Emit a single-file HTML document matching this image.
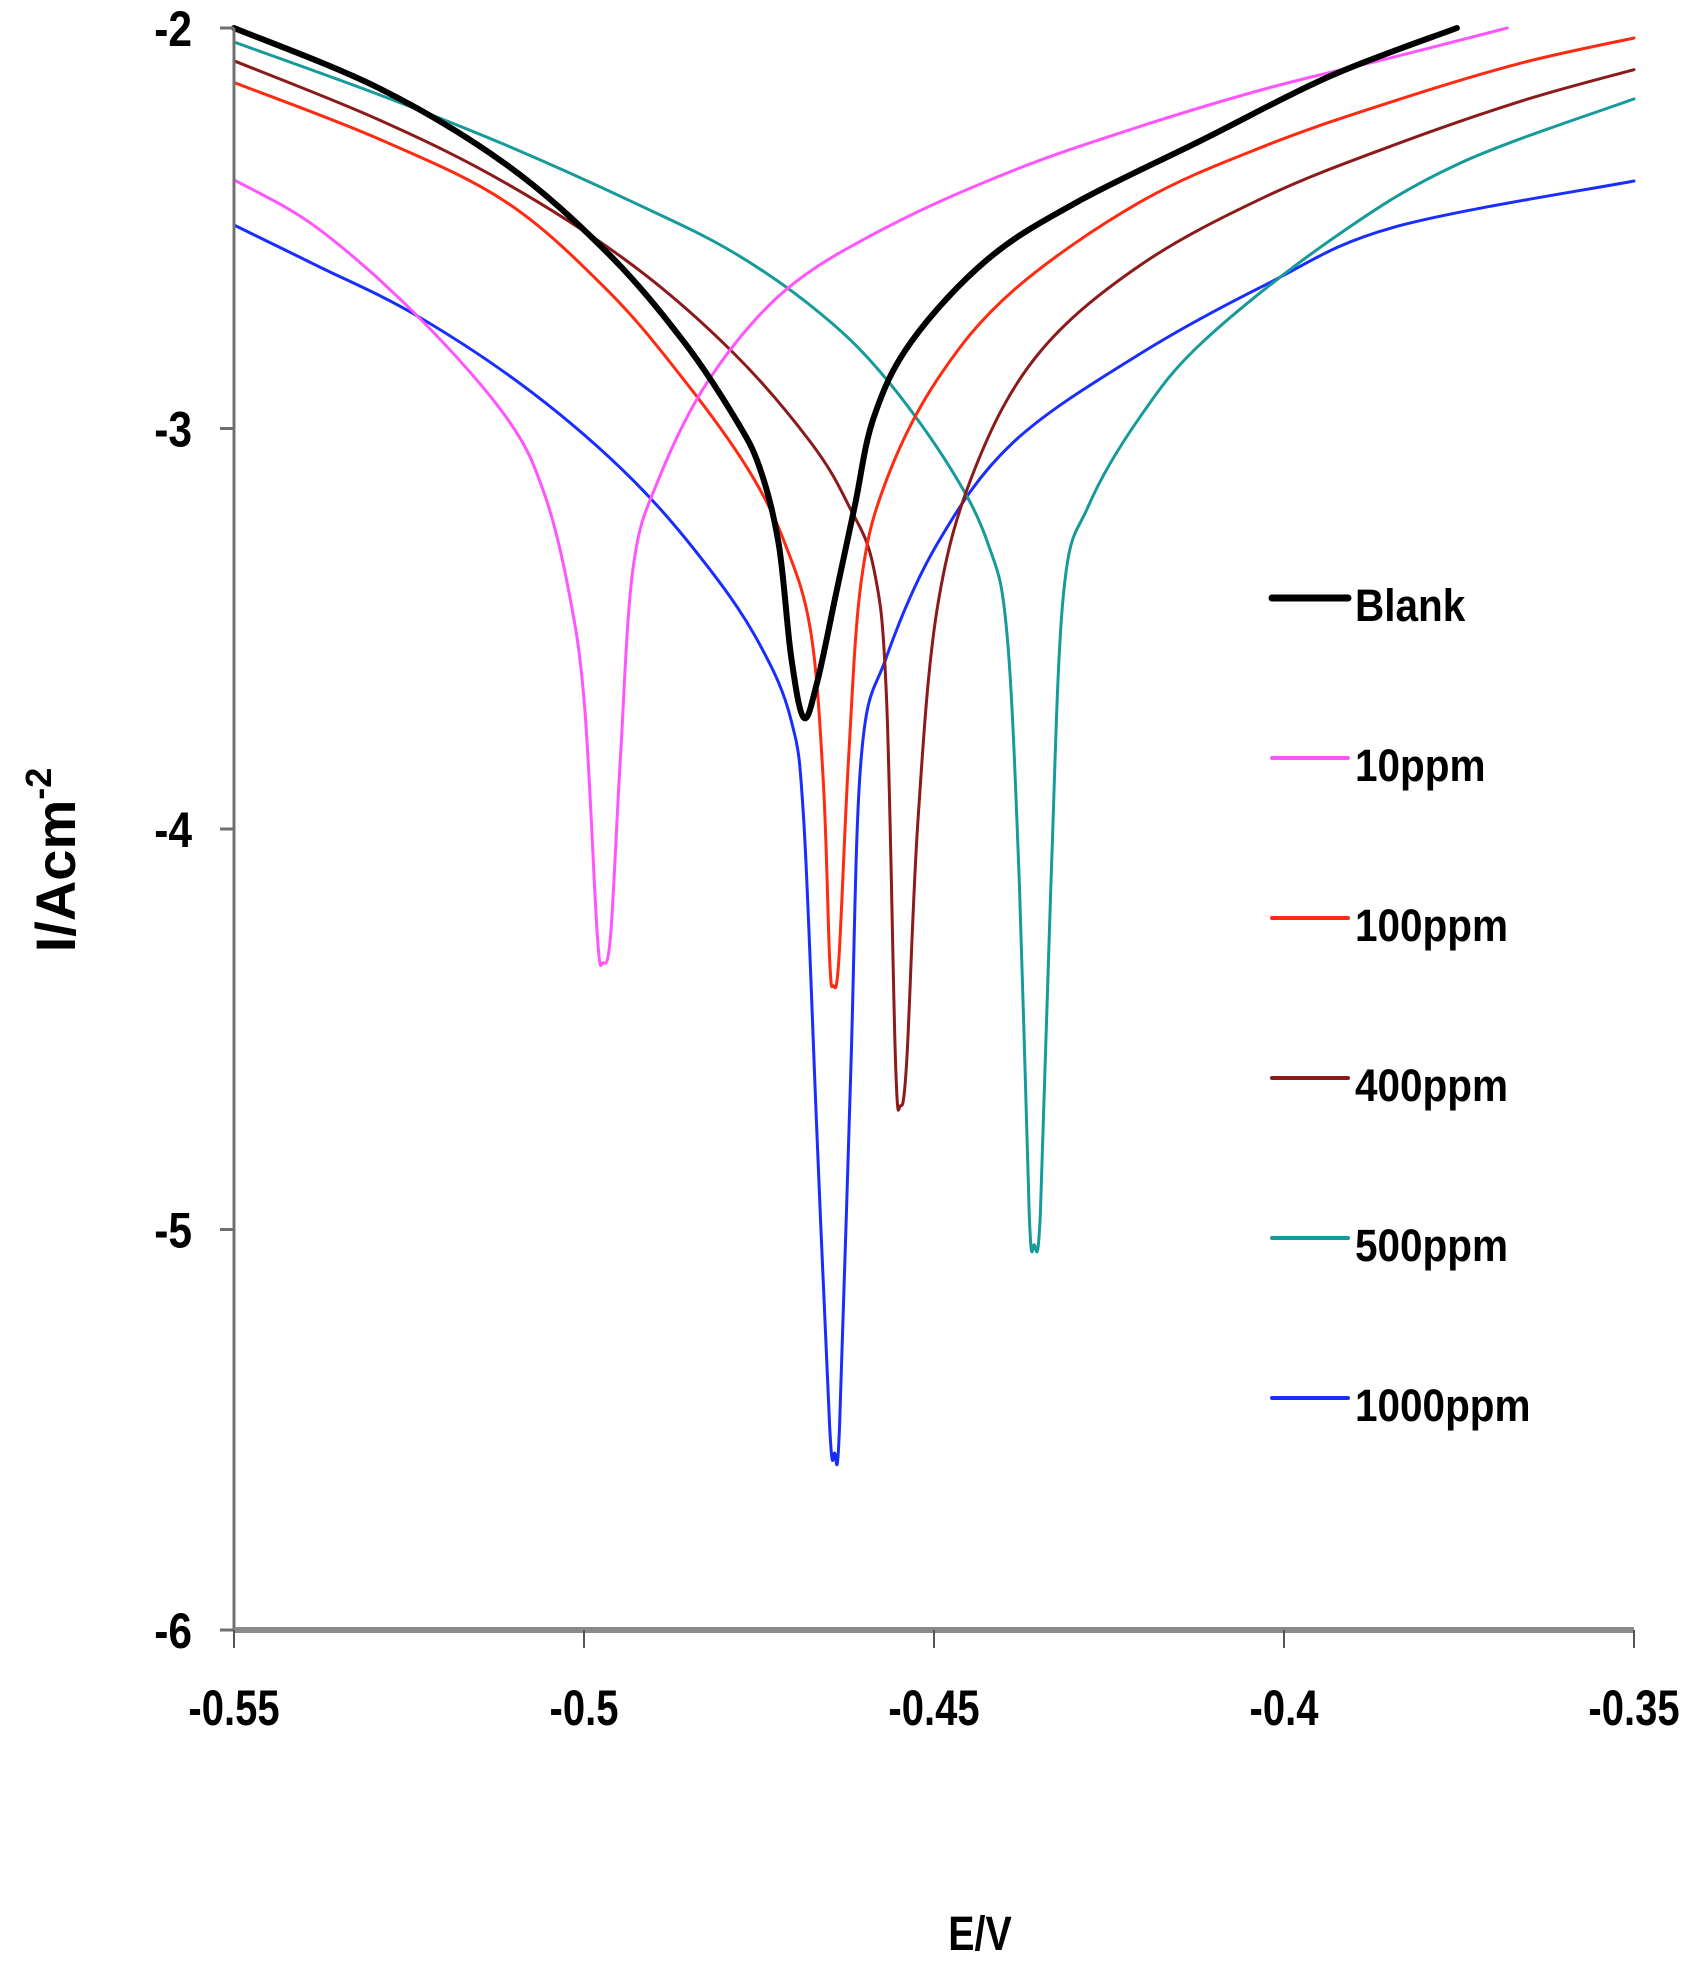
<!DOCTYPE html>
<html><head><meta charset="utf-8"><style>
html,body{margin:0;padding:0;background:#fff;}
svg{display:block;}
text{font-family:"Liberation Sans",Arial,sans-serif;font-weight:bold;fill:#000;}
</style></head><body>
<svg id="chart" width="1690" height="1980" viewBox="0 0 1690 1980" xmlns="http://www.w3.org/2000/svg">
<g id="plot"></g>
<g id="axes"></g>
<g id="legend"></g>
<text x="980" y="1950" font-size="48" text-anchor="middle" transform="translate(980 0) scale(0.82 1) translate(-980 0)">E/V</text>
<text font-size="56" text-anchor="middle" transform="translate(75 860) rotate(-90)">I/Acm<tspan font-size="36" dy="-24">-2</tspan></text>
</svg>
<script>
const xTicks=[-0.55,-0.5,-0.45,-0.4,-0.35];
const xTickLabels=["-0.55","-0.5","-0.45","-0.4","-0.35"];
const yTicks=[-2,-3,-4,-5,-6];
const yTickLabels=["-2","-3","-4","-5","-6"];
const seriesNames=["Blank","10ppm","100ppm","400ppm","500ppm","1000ppm"];
const blankE=[-0.55,-0.5292,-0.5111,-0.4966,-0.4858,-0.4785,-0.4749,-0.4722,-0.4704,-0.4686,-0.4667,-0.464,-0.4613,-0.4586,-0.4532,-0.4423,-0.4296,-0.4115,-0.3934,-0.3753];
const blankI=[-2.0,-2.151,-2.341,-2.562,-2.782,-2.972,-3.098,-3.287,-3.571,-3.722,-3.634,-3.413,-3.192,-2.972,-2.782,-2.577,-2.435,-2.278,-2.12,-2.0];
const p10E=[-0.55,-0.5382,-0.5238,-0.5111,-0.5057,-0.5021,-0.4999,-0.4981,-0.4973,-0.4962,-0.4948,-0.493,-0.4894,-0.4821,-0.4713,-0.4568,-0.4387,-0.4206,-0.4025,-0.3844,-0.3681];
const p10I=[-2.379,-2.498,-2.719,-2.972,-3.161,-3.413,-3.697,-4.265,-4.334,-4.265,-3.823,-3.35,-3.129,-2.877,-2.656,-2.498,-2.356,-2.246,-2.151,-2.073,-2.0];
const p100E=[-0.55,-0.5292,-0.5111,-0.4966,-0.4858,-0.4767,-0.4713,-0.4676,-0.4658,-0.4649,-0.4644,-0.4636,-0.4622,-0.4604,-0.4568,-0.4495,-0.4387,-0.4206,-0.4025,-0.3844,-0.3662,-0.35];
const p100I=[-2.136,-2.278,-2.435,-2.656,-2.877,-3.098,-3.287,-3.508,-3.886,-4.328,-4.391,-4.328,-3.823,-3.382,-3.129,-2.877,-2.656,-2.435,-2.293,-2.183,-2.088,-2.025];
const p400E=[-0.55,-0.5292,-0.5111,-0.493,-0.4785,-0.4676,-0.4622,-0.4586,-0.4568,-0.4555,-0.4548,-0.4539,-0.4523,-0.4495,-0.4441,-0.4351,-0.4206,-0.4025,-0.3844,-0.3662,-0.35];
const p400I=[-2.082,-2.23,-2.388,-2.593,-2.814,-3.035,-3.192,-3.35,-3.666,-4.58,-4.691,-4.58,-3.981,-3.445,-3.098,-2.814,-2.593,-2.42,-2.293,-2.183,-2.104];
const p500E=[-0.55,-0.5292,-0.5111,-0.493,-0.4785,-0.4658,-0.4568,-0.4477,-0.4423,-0.4396,-0.4378,-0.4364,-0.4357,-0.4348,-0.4333,-0.4315,-0.4279,-0.4206,-0.4115,-0.3934,-0.3753,-0.35];
const p500I=[-2.035,-2.167,-2.293,-2.435,-2.562,-2.719,-2.877,-3.098,-3.287,-3.508,-4.139,-4.959,-5.038,-4.959,-4.139,-3.413,-3.192,-2.972,-2.782,-2.53,-2.341,-2.177];
const p1000E=[-0.55,-0.5382,-0.5238,-0.5075,-0.493,-0.4821,-0.4749,-0.4704,-0.4686,-0.4667,-0.4649,-0.4642,-0.4635,-0.4619,-0.4604,-0.4568,-0.4495,-0.4387,-0.4206,-0.4025,-0.3844,-0.35];
const p1000I=[-2.492,-2.593,-2.719,-2.909,-3.129,-3.35,-3.539,-3.729,-3.981,-4.77,-5.495,-5.558,-5.495,-4.612,-3.823,-3.571,-3.287,-3.035,-2.814,-2.64,-2.498,-2.382];

const NS="http://www.w3.org/2000/svg";
const X0=234,X1=1634,Y0=28,Y1=1630;
function sx(v){return X0+(v-(-0.55))/0.2*(X1-X0);}
function sy(v){return Y0+(-2-v)/4*(Y1-Y0);}
function mk(tag,attrs,parent){const e=document.createElementNS(NS,tag);for(const k in attrs)e.setAttribute(k,attrs[k]);parent.appendChild(e);return e;}
const plot=document.getElementById('plot'),axes=document.getElementById('axes'),legend=document.getElementById('legend');
const styles=[{c:"#000000",w:6},{c:"#ff55ff",w:3},{c:"#ff2a10",w:3},{c:"#8b1a1a",w:3},{c:"#179a9a",w:3},{c:"#1a2dff",w:3}];
const data=[[blankE,blankI],[p10E,p10I],[p100E,p100I],[p400E,p400I],[p500E,p500I],[p1000E,p1000I]];
function smoothPath(xs,ys){
  const P=xs.map((x,i)=>[sx(x),sy(ys[i])]);
  let d="M"+P[0][0].toFixed(1)+","+P[0][1].toFixed(1);
  for(let i=0;i<P.length-1;i++){
    const p0=P[Math.max(0,i-1)],p1=P[i],p2=P[i+1],p3=P[Math.min(P.length-1,i+2)];
    const t=0.17;
    const c1=[p1[0]+(p2[0]-p0[0])*t,p1[1]+(p2[1]-p0[1])*t];
    const c2=[p2[0]-(p3[0]-p1[0])*t,p2[1]-(p3[1]-p1[1])*t];
    d+=" C"+c1[0].toFixed(1)+","+c1[1].toFixed(1)+" "+c2[0].toFixed(1)+","+c2[1].toFixed(1)+" "+p2[0].toFixed(1)+","+p2[1].toFixed(1);
  }
  return d;
}
// draw series (blank last so it's on top)
[5,4,3,2,1,0].forEach(i=>{
  const p=mk('path',{d:smoothPath(data[i][0],data[i][1]),fill:'none',stroke:styles[i].c,'stroke-width':styles[i].w,'stroke-linejoin':'round','stroke-linecap':'round'},plot);
  
  
});
// axes
const ya=mk('line',{x1:X0,y1:Y0,x2:X0,y2:Y1,stroke:'#707070','stroke-width':3},axes);


const xa=mk('line',{x1:X0,y1:Y1,x2:X1,y2:Y1,stroke:'#8a8a8a','stroke-width':6},axes);


yTicks.forEach((v,i)=>{
  const t=mk('line',{x1:X0-14,y1:sy(v),x2:X0,y2:sy(v),stroke:'#707070','stroke-width':3},axes);
  
  
  const tx=mk('text',{x:0,y:0,'font-size':50,'text-anchor':'end',transform:`translate(192 ${sy(v)+18}) scale(0.85 1)`},axes);
  tx.textContent=yTickLabels[i];
  
  
});
xTicks.forEach((v,i)=>{
  const t=mk('line',{x1:sx(v),y1:Y1,x2:sx(v),y2:Y1+18,stroke:'#555','stroke-width':2},axes);
  
  
  const tx=mk('text',{x:0,y:0,'font-size':50,'text-anchor':'middle',transform:`translate(${sx(v)} 1725) scale(0.8 1)`},axes);
  tx.textContent=xTickLabels[i];
  
  
});
// legend
const legY=[598,758,918,1078,1238,1398];
seriesNames.forEach((n,i)=>{
  const g=mk('g',{},legend);
  
  
  mk('line',{x1:1272,y1:legY[i],x2:1348,y2:legY[i],stroke:styles[i].c,'stroke-width':styles[i].w+1,'stroke-linecap':'round'},g);
  const tx=mk('text',{x:0,y:0,'font-size':45,transform:`translate(1355 ${legY[i]+23}) scale(0.9 1)`},g);
  tx.textContent=n;
});
</script>
</body></html>
